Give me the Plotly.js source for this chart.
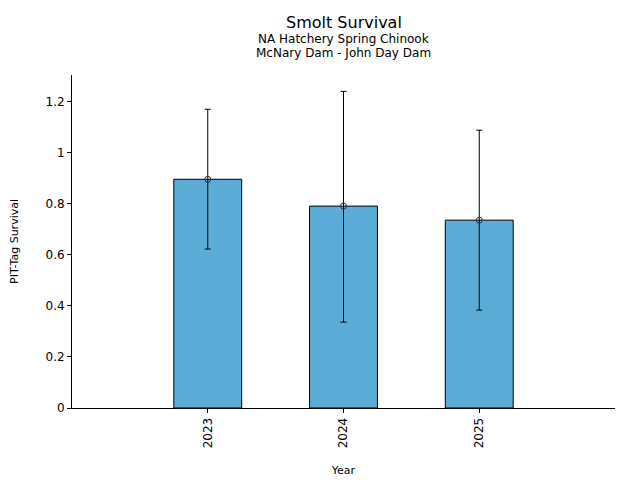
<!DOCTYPE html>
<html>
<head>
<meta charset="utf-8">
<script src="https://cdn.plot.ly/plotly-3.0.1.min.js"></script>
<style>html,body{margin:0;padding:0;background:#fff;}#chart{width:640px;height:480px;}</style>
</head>
<body>
<div id="chart"></div>
<script>
var years = ["2023", "2024", "2025"];
var survival = [0.895, 0.790, 0.735];
var upper = [1.169, 1.239, 1.087];
var lower = [0.622, 0.336, 0.383];

var plus = survival.map(function(v, i){ return upper[i] - v; });
var minus = survival.map(function(v, i){ return v - lower[i]; });
var xs = years.map(function(_, i){ return i; });

var font = "DejaVu Sans, sans-serif";

var bars = {
  type: "bar",
  x: xs,
  y: survival,
  width: 0.5,
  marker: {color: "#5BACD6", line: {color: "#000", width: 1}},
  hoverinfo: "skip",
  showlegend: false
};
var pts = {
  type: "scatter",
  mode: "markers",
  x: xs,
  y: survival,
  marker: {symbol: "circle-open", size: 6, color: "#333", line: {width: 1}},
  error_y: {type: "data", symmetric: false, array: plus, arrayminus: minus, color: "#000", thickness: 1, width: 3},
  showlegend: false
};

var layout = {
  width: 640, height: 480,
  margin: {l: 72, r: 25, t: 75, b: 72},
  paper_bgcolor: "#fff", plot_bgcolor: "#fff",
  font: {family: font, color: "#000", size: 11},
  xaxis: {
    range: [-1, 3],
    tickvals: xs, ticktext: years,
    tickangle: -90,
    ticks: "outside", ticklen: 4, tickcolor: "#000",
    showline: true, linecolor: "#000", linewidth: 1,
    showgrid: false, zeroline: false,
    tickfont: {size: 12, family: font},
    title: {text: "Year", font: {size: 11, family: font}, standoff: 18}
  },
  yaxis: {
    range: [0, 1.303],
    tickvals: [0, 0.2, 0.4, 0.6, 0.8, 1, 1.2],
    ticktext: ["0", "0.2", "0.4", "0.6", "0.8", "1", "1.2"],
    ticks: "outside", ticklen: 4, tickcolor: "#000",
    showline: true, linecolor: "#000", linewidth: 1,
    showgrid: false, zeroline: false,
    tickfont: {size: 12, family: font},
    title: {text: "PIT-Tag Survival", font: {size: 11, family: font}, standoff: 24}
  },
  annotations: [
    {text: "Smolt Survival", xref: "paper", yref: "paper", x: 0.5, y: (408 - 22.5) / 333, xanchor: "center", yanchor: "middle", showarrow: false, font: {size: 16, family: font}},
    {text: "NA Hatchery Spring Chinook", xref: "paper", yref: "paper", x: 0.5, y: (408 - 38.5) / 333, xanchor: "center", yanchor: "middle", showarrow: false, font: {size: 12, family: font}},
    {text: "McNary Dam - John Day Dam", xref: "paper", yref: "paper", x: 0.5, y: (408 - 53) / 333, xanchor: "center", yanchor: "middle", showarrow: false, font: {size: 12, family: font}}
  ]
};

Plotly.newPlot("chart", [bars, pts], layout, {displayModeBar: false, staticPlot: true});
</script>
</body>
</html>
